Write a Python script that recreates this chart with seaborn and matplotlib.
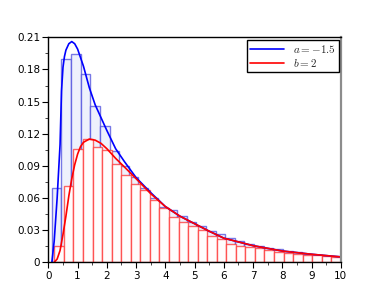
import numpy as np
import pandas as pd
import matplotlib
matplotlib.use("Agg")
import matplotlib.pyplot as plt
import seaborn as sns
from matplotlib.ticker import MultipleLocator

# ---- data ----
blue_range = (0.116, 10.0)
red_range = (0.205, 10.0)
blue_heights = [0.0697, 0.190, 0.194, 0.1755, 0.146, 0.127, 0.104, 0.090, 0.080, 0.069,
                0.0598, 0.052, 0.049, 0.043, 0.038, 0.034, 0.029, 0.026, 0.023, 0.020,
                0.0175, 0.0155, 0.013, 0.012, 0.0105, 0.0092, 0.0082, 0.0072, 0.0063, 0.0056]
red_heights = [0.0149, 0.071, 0.1058, 0.1148, 0.1075, 0.1048, 0.0918, 0.0815, 0.0728, 0.0675,
               0.058, 0.051, 0.0426, 0.038, 0.0335, 0.030, 0.0246, 0.0215, 0.0171, 0.0155,
               0.014, 0.013, 0.0115, 0.0099, 0.009, 0.008, 0.0071, 0.0065, 0.0059, 0.0052]

blue_x = [0.12, 0.2, 0.3, 0.4, 0.45, 0.5, 0.55, 0.6, 0.7, 0.8, 0.9, 1.0, 1.2, 1.4, 1.6,
          1.8, 2.0, 2.3, 2.6, 3.0, 3.5, 4.0, 4.5, 5.0, 5.5, 6.0, 7.0, 8.0, 9.0, 10.0]
blue_y = [0.0, 0.02, 0.06, 0.11, 0.160, 0.182, 0.192, 0.198, 0.204, 0.206, 0.204, 0.199,
          0.183, 0.163, 0.147, 0.135, 0.123, 0.106, 0.094, 0.079, 0.065, 0.052, 0.043,
          0.036, 0.029, 0.0225, 0.0155, 0.0105, 0.0075, 0.005]
red_x = [0.2, 0.3, 0.4, 0.5, 0.6, 0.7, 0.8, 0.9, 1.0, 1.1, 1.2, 1.4, 1.6, 1.8, 2.0,
         2.3, 2.6, 3.0, 3.5, 4.0, 4.5, 5.0, 5.5, 6.0, 7.0, 8.0, 9.0, 10.0]
red_y = [0.0, 0.003, 0.011, 0.026, 0.043, 0.062, 0.078, 0.091, 0.101, 0.108, 0.112, 0.115,
         0.114, 0.111, 0.106, 0.097, 0.089, 0.078, 0.064, 0.052, 0.043, 0.036, 0.029,
         0.0225, 0.0155, 0.0105, 0.0075, 0.005]

legend_labels = [r"$a = -1.5$", r"$b = 2$"]
x_ticks = list(range(0, 11))
y_ticks = [0, 0.03, 0.06, 0.09, 0.12, 0.15, 0.18, 0.21]
y_tick_labels = ["0", "0.03", "0.06", "0.09", "0.12", "0.15", "0.18", "0.21"]

# ---- plotting ----
sns.set_style("white")
plt.rcParams["font.family"] = ["DejaVu Sans"]
plt.rcParams["mathtext.fontset"] = "cm"

fig = plt.figure(figsize=(3.9, 3.0), dpi=100)
ax = fig.add_axes([0.124, 0.1257, 0.75, 0.75])

b_edges = list(np.linspace(blue_range[0], blue_range[1], len(blue_heights) + 1))
r_edges = list(np.linspace(red_range[0], red_range[1], len(red_heights) + 1))
b_centers = [(b_edges[i] + b_edges[i + 1]) / 2 for i in range(len(blue_heights))]
r_centers = [(r_edges[i] + r_edges[i + 1]) / 2 for i in range(len(red_heights))]
df_hb = pd.DataFrame({"x": b_centers, "w": blue_heights})
df_hr = pd.DataFrame({"x": r_centers, "w": red_heights})

sns.histplot(data=df_hb, x="x", weights="w", bins=b_edges, stat="count",
             element="bars", ax=ax, color="blue")
n_blue = len(ax.patches)
for p in ax.patches:
    p.set_facecolor((0.935, 0.945, 0.99, 1.0))
    p.set_edgecolor((0.3, 0.3, 0.87, 0.75))
    p.set_linewidth(1.0)
sns.histplot(data=df_hr, x="x", weights="w", bins=r_edges, stat="count",
             element="bars", ax=ax, color="red")
for p in ax.patches[n_blue:]:
    p.set_facecolor((1.0, 0.99, 0.99, 1.0))
    p.set_edgecolor((1.0, 0.2, 0.2, 0.75))
    p.set_linewidth(1.0)

df_b = pd.DataFrame({"x": blue_x, "y": blue_y})
df_r = pd.DataFrame({"x": red_x, "y": red_y})
sns.lineplot(data=df_b, x="x", y="y", ax=ax, color="blue", lw=1.2, label=legend_labels[0])
sns.lineplot(data=df_r, x="x", y="y", ax=ax, color="red", lw=1.2, label=legend_labels[1])

ax.set_xlim(0, 10)
ax.set_ylim(0, 0.21)
ax.set_xticks(x_ticks)
ax.set_xticklabels([str(t) for t in x_ticks])
ax.set_yticks(y_ticks)
ax.set_yticklabels(y_tick_labels)
ax.xaxis.set_minor_locator(MultipleLocator(0.5))
ax.yaxis.set_minor_locator(MultipleLocator(0.015))
ax.tick_params(which="major", direction="out", length=4, width=0.8, labelsize=7.5,
               bottom=True, left=True, colors="black", pad=2)
ax.tick_params(which="minor", direction="out", length=2, width=0.6,
               bottom=True, left=True)
ax.set_xlabel("")
ax.set_ylabel("")
for s in ["left", "bottom", "top"]:
    ax.spines[s].set_color("black")
    ax.spines[s].set_linewidth(1.0)
ax.spines["right"].set_color("#8c8c8c")
ax.spines["right"].set_linewidth(1.6)

leg = ax.legend(loc="upper right", fontsize=8, frameon=True, fancybox=False,
                framealpha=1, edgecolor="black", borderaxespad=0.2,
                handlelength=3.0, borderpad=0.3, labelspacing=0.2)
leg.get_frame().set_linewidth(1.0)

fig.savefig("out.png", dpi=100)
